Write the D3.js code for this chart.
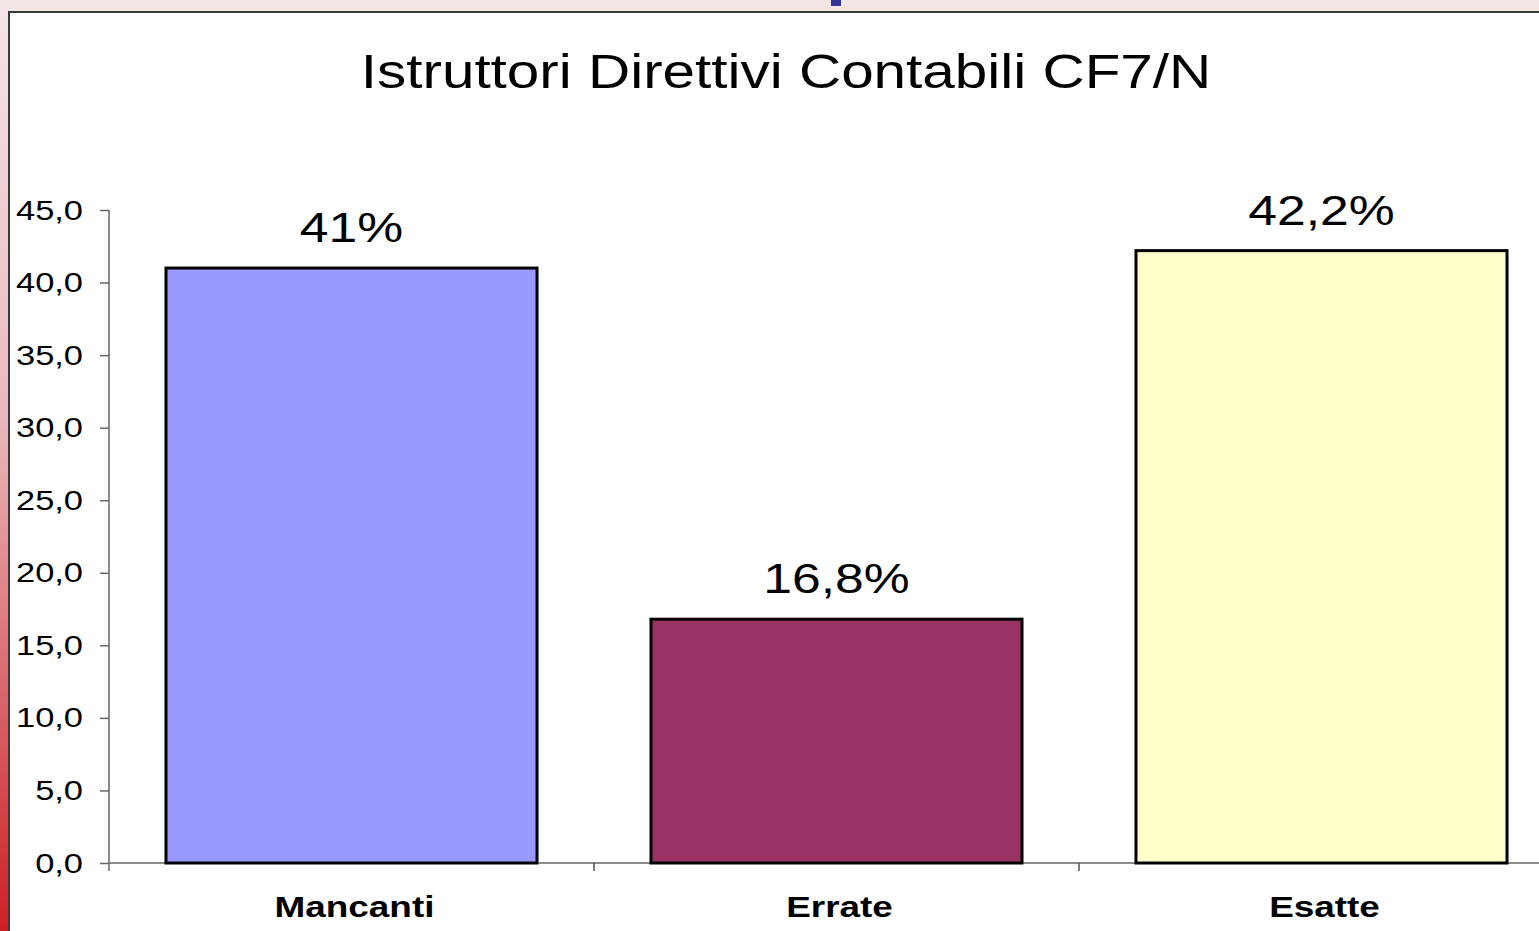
<!DOCTYPE html>
<html>
<head>
<meta charset="utf-8">
<script src="https://cdn.jsdelivr.net/npm/d3@7"></script>
<style>
  body { margin: 0; overflow: hidden; background: #f5e6e6; }
  text { font-family: "Liberation Sans", Arial, sans-serif; }
</style>
</head>
<body>
<script>
// data
var categories = ["Mancanti", "Errate", "Esatte"];
var values = [41.0, 16.8, 42.2];
var valueLabels = ["41%", "16,8%", "42,2%"];
var barColors = ["#9999ff", "#993366", "#ffffcc"];
var yTicks = [0, 5, 10, 15, 20, 25, 30, 35, 40, 45];
var title = "Istruttori Direttivi Contabili CF7/N";

var W = 1539, H = 931;
var stretch = 1.23; // text in the picture is drawn wider than normal

var svg = d3.select("body")
	.append("svg")
	.attr("width", W)
	.attr("height", H);

// reddish strip on the left side
var grad = svg.append("defs").append("linearGradient")
	.attr("id", "strip")
	.attr("x1", 0).attr("y1", 0).attr("x2", 0).attr("y2", 1);
grad.append("stop").attr("offset", "0%").attr("stop-color", "#f5e6e6");
grad.append("stop").attr("offset", "45%").attr("stop-color", "#e9b8bc");
grad.append("stop").attr("offset", "100%").attr("stop-color", "#cc1f26");

svg.append("rect")
	.attr("x", 0).attr("y", 0)
	.attr("width", 8).attr("height", H)
	.style("fill", "url(#strip)");

// small blue mark at the top
svg.append("rect")
	.attr("x", 831).attr("y", 0)
	.attr("width", 10).attr("height", 6)
	.style("fill", "#333399");

// white chart frame
svg.append("rect")
	.attr("x", 9).attr("y", 12)
	.attr("width", W + 20).attr("height", H + 20)
	.style("fill", "white")
	.style("stroke", "#3a3a3a")
	.style("stroke-width", 2);

svg.append("text")
	.attr("transform", "translate(786,88) scale(" + stretch + ",1)")
	.attr("text-anchor", "middle")
	.style("font-size", "47.5px")
	.style("fill", "black")
	.text(title);

var plot = {left: 109, top: 210, bottom: 863, right: 1564};

var y = d3.scaleLinear()
	.domain([0, 45])
	.range([plot.bottom, plot.top]);

var x = d3.scaleBand()
	.domain(categories)
	.range([plot.left, plot.right])
	.paddingInner(0.235)
	.paddingOuter(0.1175);

var locale = d3.formatLocale({decimal: ",", thousands: ".", grouping: [3], currency: ["", "€"]});
var fmt = locale.format(".1f");

// y axis
var yAxis = svg.append("g")
	.attr("transform", "translate(" + plot.left + ",0)")
	.call(d3.axisLeft(y).tickValues(yTicks).tickSize(9).tickFormat(fmt));

yAxis.select(".domain")
	.attr("d", "M0," + plot.top + "V" + (plot.bottom + 8))
	.style("stroke", "#666")
	.style("stroke-width", 1.5);
yAxis.selectAll(".tick line").style("stroke", "#666").style("stroke-width", 1.5);
yAxis.selectAll(".tick text")
	.attr("x", null)
	.attr("dy", null)
	.attr("transform", "translate(-26,9) scale(" + stretch + ",1)")
	.attr("text-anchor", "end")
	.style("font-family", "Liberation Sans, Arial, sans-serif")
	.style("font-size", "28px")
	.style("fill", "black");

// x axis baseline and category ticks
svg.append("line")
	.attr("x1", plot.left).attr("x2", W)
	.attr("y1", plot.bottom).attr("y2", plot.bottom)
	.style("stroke", "#666")
	.style("stroke-width", 1.5);

var bounds = d3.range(1, categories.length).map(function(i) {
	return plot.left + i * x.step();
});
svg.selectAll(".xtick")
	.data(bounds)
	.enter()
	.append("line")
	.attr("class", "xtick")
	.attr("x1", function(d) { return d; })
	.attr("x2", function(d) { return d; })
	.attr("y1", plot.bottom)
	.attr("y2", plot.bottom + 8)
	.style("stroke", "#555")
	.style("stroke-width", 1.5);

// bars
svg.selectAll(".bar")
	.data(values)
	.enter()
	.append("rect")
	.attr("class", "bar")
	.attr("x", function(d, i) { return x(categories[i]); })
	.attr("y", function(d) { return y(d); })
	.attr("width", x.bandwidth())
	.attr("height", function(d) { return y(0) - y(d); })
	.style("fill", function(d, i) { return barColors[i]; })
	.style("stroke", "black")
	.style("stroke-width", 3);

// value labels
svg.selectAll(".vlabel")
	.data(values)
	.enter()
	.append("text")
	.attr("class", "vlabel")
	.attr("transform", function(d, i) {
		var cx = x(categories[i]) + x.bandwidth() / 2;
		return "translate(" + cx + "," + (y(d) - 26) + ") scale(" + stretch + ",1)";
	})
	.attr("text-anchor", "middle")
	.style("font-size", "42px")
	.style("fill", "black")
	.text(function(d, i) { return valueLabels[i]; });

// category labels
svg.selectAll(".clabel")
	.data(categories)
	.enter()
	.append("text")
	.attr("class", "clabel")
	.attr("transform", function(d) {
		var cx = x(d) + x.bandwidth() / 2 + 3;
		return "translate(" + cx + ",917) scale(" + stretch + ",1)";
	})
	.attr("text-anchor", "middle")
	.style("font-size", "30px")
	.style("font-weight", "bold")
	.style("fill", "black")
	.text(function(d) { return d; });
</script>
</body>
</html>
